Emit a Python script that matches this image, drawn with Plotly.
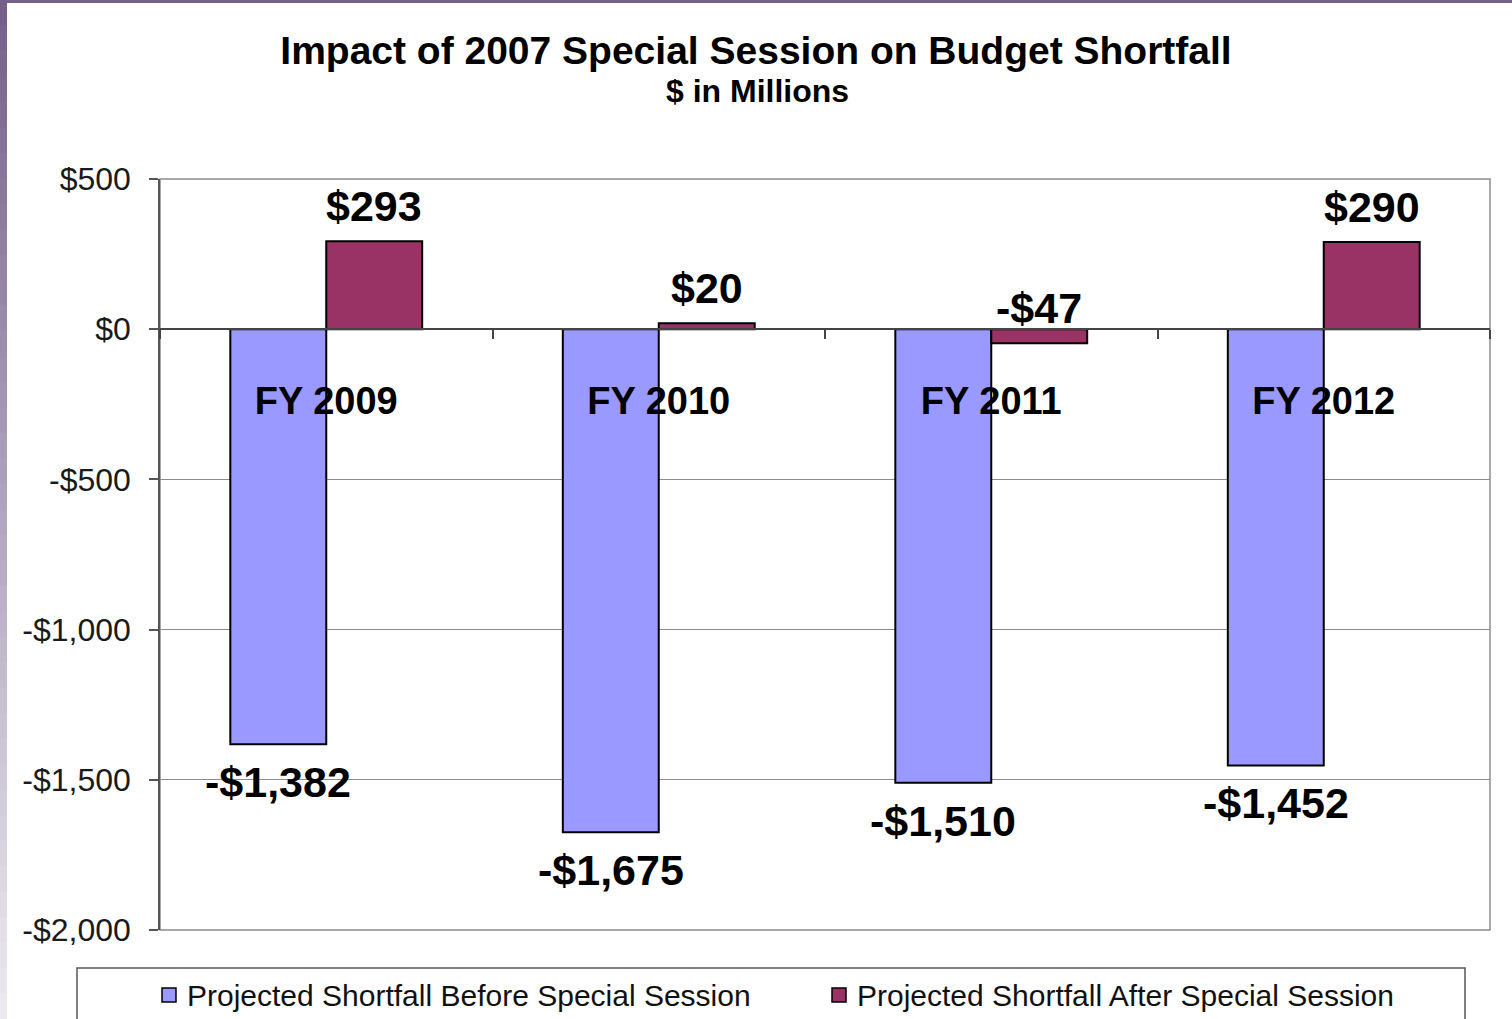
"""Impact of 2007 Special Session on Budget Shortfall - grouped bar chart."""
import plotly.graph_objects as go

CATEGORIES = ["FY 2009", "FY 2010", "FY 2011", "FY 2012"]
BEFORE = [-1382, -1675, -1510, -1452]
AFTER = [293, 20, -47, 290]
SERIES_NAMES = [
    "Projected Shortfall Before Special Session",
    "Projected Shortfall After Special Session",
]
Y_TICKS = [500, 0, -500, -1000, -1500, -2000]
Y_TICK_LABELS = ["$500", "$0", "-$500", "-$1,000", "-$1,500", "-$2,000"]

BLUE = "#9999ff"
MAROON = "#993366"
COLORS = [BLUE, MAROON]
FONT = "Arial, Liberation Sans, sans-serif"

W, H = 1512, 1019
L, R, T, B = 160, 22, 179, 89
PW, PH = W - L - R, H - T - B


def px_x(px):
    return (px - L) / PW


def px_y(py):
    return (H - B - py) / PH


def money(v):
    return f"-${abs(v):,}" if v < 0 else f"${v:,}"


fig = go.Figure()
for name, vals, color in zip(SERIES_NAMES, [BEFORE, AFTER], COLORS):
    fig.add_trace(go.Bar(
        x=CATEGORIES, y=vals, name=name, showlegend=False,
        marker=dict(color=color, line=dict(color="#000000", width=2)),
    ))

# data labels, blue ones below the bar end, maroon ones above it
annotations = []
for cat, v in zip(CATEGORIES, BEFORE):
    annotations.append(dict(
        x=cat, y=v, xref="x", yref="y", text=money(v), showarrow=False,
        xshift=-48, yshift=-38, yanchor="middle",
        font=dict(family=FONT, size=43, color="#000000", weight="bold"),
    ))
for cat, v in zip(CATEGORIES, AFTER):
    annotations.append(dict(
        x=cat, y=v, xref="x", yref="y", text=money(v), showarrow=False,
        xshift=48, yshift=35, yanchor="middle",
        font=dict(family=FONT, size=43, color="#000000", weight="bold"),
    ))
annotations.append(dict(
    x=px_x(757), y=px_y(91), xref="paper", yref="paper",
    text="$ in Millions", showarrow=False, yanchor="middle",
    font=dict(family=FONT, size=32, color="#000000", weight="bold"),
))

shapes = []
# slide background: purple gradient strip on the left, thin band on top
steps = 40
top_c, bot_c = (118, 96, 138), (236, 233, 241)
for i in range(steps):
    f = i / (steps - 1)
    c = tuple(round(a + (b - a) * f) for a, b in zip(top_c, bot_c))
    shapes.append(dict(
        type="rect", xref="paper", yref="paper", layer="above",
        x0=px_x(0), x1=px_x(7),
        y0=px_y(i * H / steps), y1=px_y((i + 1) * H / steps + 1),
        fillcolor=f"rgb{c}", line=dict(width=0),
    ))
shapes.append(dict(
    type="rect", xref="paper", yref="paper", layer="above",
    x0=px_x(0), x1=px_x(W), y0=px_y(0), y1=px_y(3),
    fillcolor="rgb(118,96,138)", line=dict(width=0),
))
# plot area border
shapes.append(dict(
    type="rect", xref="paper", yref="paper", layer="below",
    x0=0, x1=1, y0=0, y1=1, line=dict(color="#8c8c8c", width=1.5),
))

# legend: frame, swatches and labels
shapes.append(dict(
    type="rect", xref="paper", yref="paper",
    x0=px_x(77), x1=px_x(1465), y0=px_y(968), y1=px_y(1040),
    line=dict(color="#555555", width=1.5), fillcolor="rgba(0,0,0,0)",
))
for name, color, sx in zip(SERIES_NAMES, COLORS, [162, 832]):
    shapes.append(dict(
        type="rect", xref="paper", yref="paper",
        x0=px_x(sx), x1=px_x(sx + 14), y0=px_y(988), y1=px_y(1002),
        fillcolor=color, line=dict(color="#000000", width=1.5),
    ))
    annotations.append(dict(
        x=px_x(sx + 23), y=px_y(995), xref="paper", yref="paper",
        text=name, showarrow=False, xanchor="left", yanchor="middle",
        font=dict(family=FONT, size=30, color="#111111"),
    ))

fig.update_layout(
    width=W, height=H,
    margin=dict(l=L, r=R, t=T, b=B),
    paper_bgcolor="#ffffff", plot_bgcolor="#ffffff",
    font=dict(family=FONT, color="#111111"),
    title=dict(
        text="Impact of 2007 Special Session on Budget Shortfall",
        x=0.5, xref="container", xanchor="center",
        y=1 - 50 / H, yref="container", yanchor="middle",
        font=dict(family=FONT, size=39, color="#000000", weight="bold"),
    ),
    barmode="group", bargap=0.423, bargroupgap=0,
    showlegend=False,
    xaxis=dict(
        type="category", categoryorder="array", categoryarray=CATEGORIES,
        anchor="free", position=2000 / 2500,
        showline=True, linecolor="#444444", linewidth=1.5,
        ticks="outside", tickson="boundaries", ticklen=9,
        tickcolor="#444444", tickwidth=1.5,
        ticklabelstandoff=38,
        tickfont=dict(family=FONT, size=38, color="#000000", weight="bold"),
        showgrid=False, zeroline=False,
    ),
    yaxis=dict(
        range=[-2000, 500], tickvals=Y_TICKS, ticktext=Y_TICK_LABELS,
        showgrid=True, gridcolor="#8c8c8c", gridwidth=1,
        zeroline=False, showline=True, linecolor="#555555", linewidth=1.5,
        ticks="outside", ticklen=9, tickcolor="#555555", tickwidth=1.5,
        ticklabelstandoff=12,
        tickfont=dict(family=FONT, size=32, color="#1a1a1a"),
    ),
    annotations=annotations,
    shapes=shapes,
)

fig.write_html(
    "out.html",
    config={"displayModeBar": False},
    post_script="document.body.style.margin='0';document.body.style.overflow='hidden';",
)
